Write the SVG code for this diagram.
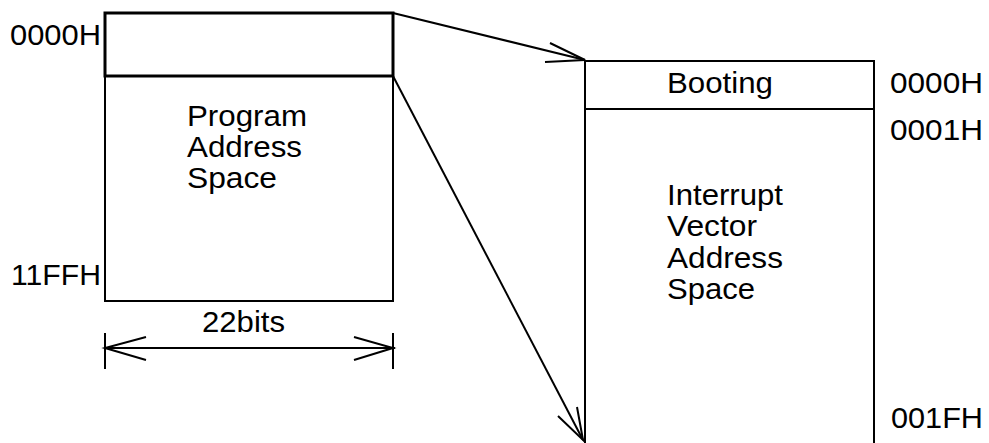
<svg xmlns="http://www.w3.org/2000/svg" width="989" height="443" viewBox="0 0 989 443">
<style>
.t{font-family:"Liberation Sans",Arial,sans-serif;font-size:30px;fill:#000}
.b{fill:#fff;stroke:#000;stroke-width:2}
.ln{fill:none;stroke:#000;stroke-width:2}
</style>
<rect width="989" height="443" fill="#fff"/>
<g id="program-space">
<rect class="b" x="105" y="13" width="288" height="288"/>
<rect class="b" x="105" y="13" width="288" height="63" style="stroke-width:3"/>
<text class="t" x="187" y="126" textLength="120" lengthAdjust="spacingAndGlyphs">Program</text>
<text class="t" x="187" y="157" textLength="115" lengthAdjust="spacingAndGlyphs">Address</text>
<text class="t" x="187" y="188" textLength="90" lengthAdjust="spacingAndGlyphs">Space</text>
<text class="t" x="10" y="45" textLength="91" lengthAdjust="spacingAndGlyphs">0000H</text>
<text class="t" x="11" y="285" textLength="90" lengthAdjust="spacingAndGlyphs">11FFH</text>
</g>
<g id="width-dimension">
<line class="ln" x1="105" y1="333" x2="105" y2="369"/>
<line class="ln" x1="393" y1="333" x2="393" y2="369"/>
<line class="ln" x1="105" y1="348" x2="395" y2="348"/>
<polyline class="ln" points="146,337 105,348 146,360"/>
<polyline class="ln" points="354,337 393,348 354,360"/>
<text class="t" x="202" y="332" textLength="83" lengthAdjust="spacingAndGlyphs">22bits</text>
</g>
<g id="vector-space">
<rect class="b" x="585" y="61" width="289" height="400"/>
<line class="ln" x1="585" y1="109" x2="874" y2="109"/>
<text class="t" x="667" y="93" textLength="106" lengthAdjust="spacingAndGlyphs">Booting</text>
<text class="t" x="667" y="205" textLength="116" lengthAdjust="spacingAndGlyphs">Interrupt</text>
<text class="t" x="667" y="236" textLength="90" lengthAdjust="spacingAndGlyphs">Vector</text>
<text class="t" x="667" y="268" textLength="116" lengthAdjust="spacingAndGlyphs">Address</text>
<text class="t" x="667" y="299" textLength="88" lengthAdjust="spacingAndGlyphs">Space</text>
<text class="t" x="890" y="93" textLength="93" lengthAdjust="spacingAndGlyphs">0000H</text>
<text class="t" x="890" y="140" textLength="93" lengthAdjust="spacingAndGlyphs">0001H</text>
<text class="t" x="891" y="428" textLength="92" lengthAdjust="spacingAndGlyphs">001FH</text>
</g>
<g id="connectors">
<line class="ln" x1="393" y1="13" x2="585" y2="60"/>
<polyline class="ln" points="550,43 585,60 545,62"/>
<line class="ln" x1="393" y1="76" x2="583" y2="440"/>
<polyline class="ln" points="558,416 583,440 577,407"/>
</g>
</svg>
